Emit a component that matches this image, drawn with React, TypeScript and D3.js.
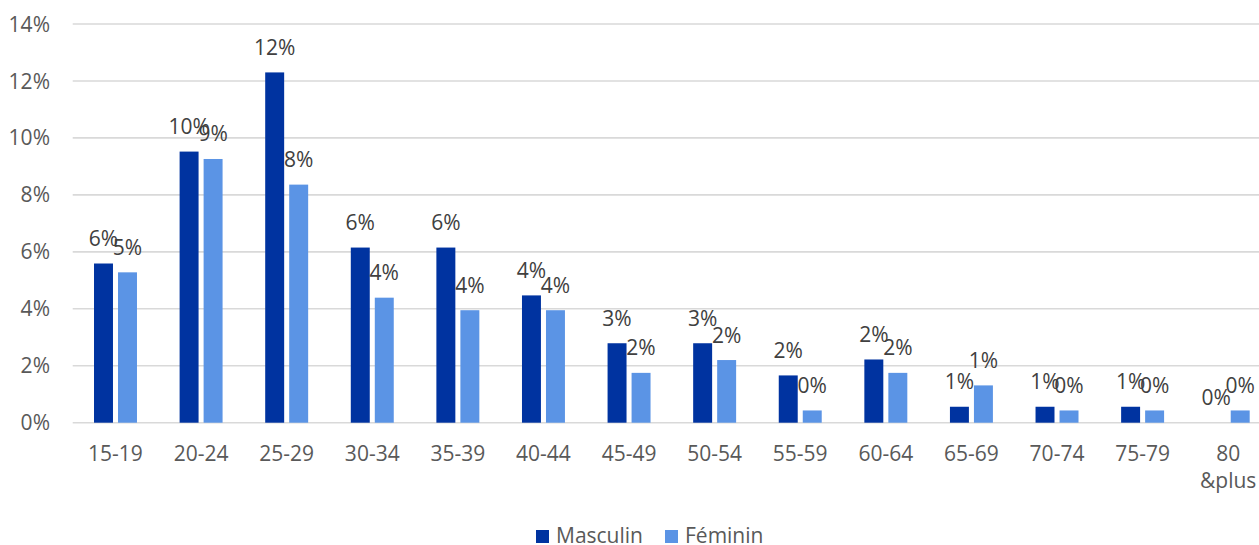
import React from "react";
import * as d3 from "d3";

const categories = ["15-19", "20-24", "25-29", "30-34", "35-39", "40-44", "45-49", "50-54", "55-59", "60-64", "65-69", "70-74", "75-79", "80 &plus"];
const masculin = [5.59, 9.52, 12.3, 6.15, 6.15, 4.47, 2.79, 2.79, 1.66, 2.22, 0.56, 0.56, 0.56, 0];
const feminin = [5.28, 9.26, 8.36, 4.39, 3.95, 3.95, 1.75, 2.2, 0.43, 1.75, 1.31, 0.43, 0.43, 0.43];
const seriesNames = ["Masculin", "Féminin"];
const yTicks = [0, 2, 4, 6, 8, 10, 12, 14];

const W = 1259;
const H = 545;
const colors = ["#0033A0", "#5B94E5"];
const FONT = "'Open Sans', Lato, sans-serif";

export default function App() {
  const x0 = d3.scaleBand<string>().domain(categories).range([72.7, 1271]).padding(0);
  const bw = x0.bandwidth();
  const x1 = d3.scaleBand<string>().domain(seriesNames).range([bw * 0.249, bw * 0.751]).paddingInner(0.21);
  const y = d3.scaleLinear().domain([0, 14]).range([422.7, 24]);
  const series = [masculin, feminin];

  return (
    <svg width={W} height={H} style={{ position: "absolute", left: 0, top: 0, background: "#fff" }} fontFamily={FONT}>
      {yTicks.map((t) => (
        <g key={t}>
          <line x1={72.7} x2={W} y1={y(t)} y2={y(t)} stroke="#d9d9d9" strokeWidth={1.6} />
          <text x={50} y={y(t)} dy="0.36em" textAnchor="end" fontSize={21} fill="#595959">{t}%</text>
        </g>
      ))}
      {categories.map((c, i) => (
        <g key={c} transform={`translate(${x0(c)},0)`}>
          {series.map((s, j) => {
            const v = s[i];
            const bx = x1(seriesNames[j])!;
            const w = x1.bandwidth();
            return (
              <g key={j}>
                {v > 0 && (
                  <rect x={bx} y={y(v)} width={w} height={y(0) - y(v)} fill={colors[j]} />
                )}
                <text x={bx + w / 2} y={y(v) - 17.5} textAnchor="middle" fontSize={21} fill="#404040">
                  {Math.round(v)}%
                </text>
              </g>
            );
          })}
          {c.split(" ").map((part, k) => (
            <text key={k} x={bw / 2} y={461 + k * 27} textAnchor="middle" fontSize={21} fill="#595959">{part}</text>
          ))}
        </g>
      ))}
      <g>
        <rect x={536} y={530} width={13} height={13} fill={colors[0]} />
        <text x={556} y={543} fontSize={21} fill="#595959">{seriesNames[0]}</text>
        <rect x={665} y={530} width={13} height={13} fill={colors[1]} />
        <text x={685} y={543} fontSize={21} fill="#595959">{seriesNames[1]}</text>
      </g>
    </svg>
  );
}
